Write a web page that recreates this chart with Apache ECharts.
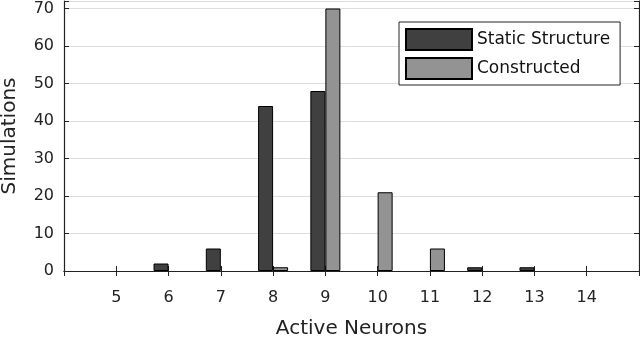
<!DOCTYPE html>
<html>
<head>
<meta charset="utf-8">
<script src="https://cdn.jsdelivr.net/npm/echarts@6/dist/echarts.min.js"></script>
<style>
  html, body { margin: 0; padding: 0; background: #fff; }
  #chart { width: 640px; height: 338px; }
</style>
</head>
<body>
<div id="chart"></div>
<script>
// data
var neurons = [5, 6, 7, 8, 9, 10, 11, 12, 13, 14];
var staticStructure = [0, 2, 6, 44, 48, 0, 0, 1, 1, 0];
var constructed = [0, 0, 0, 1, 70, 21, 6, 0, 0, 0];
var seriesNames = ['Static Structure', 'Constructed'];

var font = 'DejaVu Sans';
var axisColor = '#222';

// empty bins are not drawn in the figure
function pairs(vals) {
    return neurons.map(function (n, i) { return vals[i] > 0 ? [n, vals[i]] : [n, '-']; });
}

var chart = echarts.init(document.getElementById('chart'));
var option = {
    animation: false,
    backgroundColor: '#fff',
    textStyle: { fontFamily: font, color: '#222' },
    grid: { left: 64, right: 1, top: 1, bottom: 67, containLabel: false, outerBoundsMode: 'none' },
    legend: {
        data: seriesNames,
        orient: 'vertical',
        left: 399,
        top: 22,
        padding: [6, 10, 5, 6],
        itemGap: 6,
        itemWidth: 66,
        itemHeight: 21,
        borderColor: '#222',
        borderWidth: 1,
        backgroundColor: '#fff',
        icon: 'rect',
        textStyle: { fontFamily: font, fontSize: 17, color: '#111' }
    },
    xAxis: [
        {
            type: 'value',
            min: 4, max: 15, interval: 1,
            name: 'Active Neurons',
            nameLocation: 'middle',
            nameGap: 48,
            nameTextStyle: { fontFamily: font, fontSize: 20, color: '#222' },
            axisLine: { show: true, lineStyle: { color: axisColor, width: 1.2 } },
            axisTick: { show: true, inside: true, length: 5, lineStyle: { color: axisColor } },
            axisLabel: {
                margin: 19,
                fontFamily: font, fontSize: 16, color: '#222',
                formatter: function (v) { return (v < 5 || v > 14) ? '' : v; }
            },
            splitLine: { show: false }
        },
        {
            type: 'value',
            position: 'top',
            min: 4, max: 15, interval: 1,
            axisLine: { show: true, lineStyle: { color: axisColor, width: 1.2 } },
            axisTick: { show: true, inside: true, length: 5, lineStyle: { color: axisColor } },
            axisLabel: { show: false },
            splitLine: { show: false }
        }
    ],
    yAxis: [
        {
            type: 'value',
            min: 0, max: 72, interval: 10,
            name: 'Simulations',
            nameLocation: 'middle',
            nameGap: 44,
            nameTextStyle: { fontFamily: font, fontSize: 20, color: '#222' },
            axisLine: { show: true, lineStyle: { color: axisColor, width: 1.2 } },
            axisTick: { show: true, inside: true, length: 5, lineStyle: { color: axisColor } },
            axisLabel: {
                margin: 10,
                fontFamily: font, fontSize: 16, color: '#222',
                formatter: function (v) { return v % 10 === 0 ? v : ''; }
            },
            splitLine: { show: true, lineStyle: { color: '#dedede', width: 1 } }
        },
        {
            type: 'value',
            position: 'right',
            min: 0, max: 72, interval: 10,
            axisLine: { show: true, lineStyle: { color: axisColor, width: 1.2 } },
            axisTick: { show: true, inside: true, length: 5, lineStyle: { color: axisColor } },
            axisLabel: { show: false },
            splitLine: { show: false }
        }
    ],
    series: [
        {
            name: seriesNames[0],
            type: 'bar',
            barWidth: 15,
            barGap: '0%',
            itemStyle: { color: '#404040', borderColor: '#000', borderWidth: 1 },
            data: pairs(staticStructure)
        },
        {
            name: seriesNames[1],
            type: 'bar',
            barWidth: 15,
            barGap: '0%',
            itemStyle: { color: '#939393', borderColor: '#000', borderWidth: 1 },
            data: pairs(constructed)
        }
    ]
};
chart.setOption(option);
</script>
</body>
</html>
